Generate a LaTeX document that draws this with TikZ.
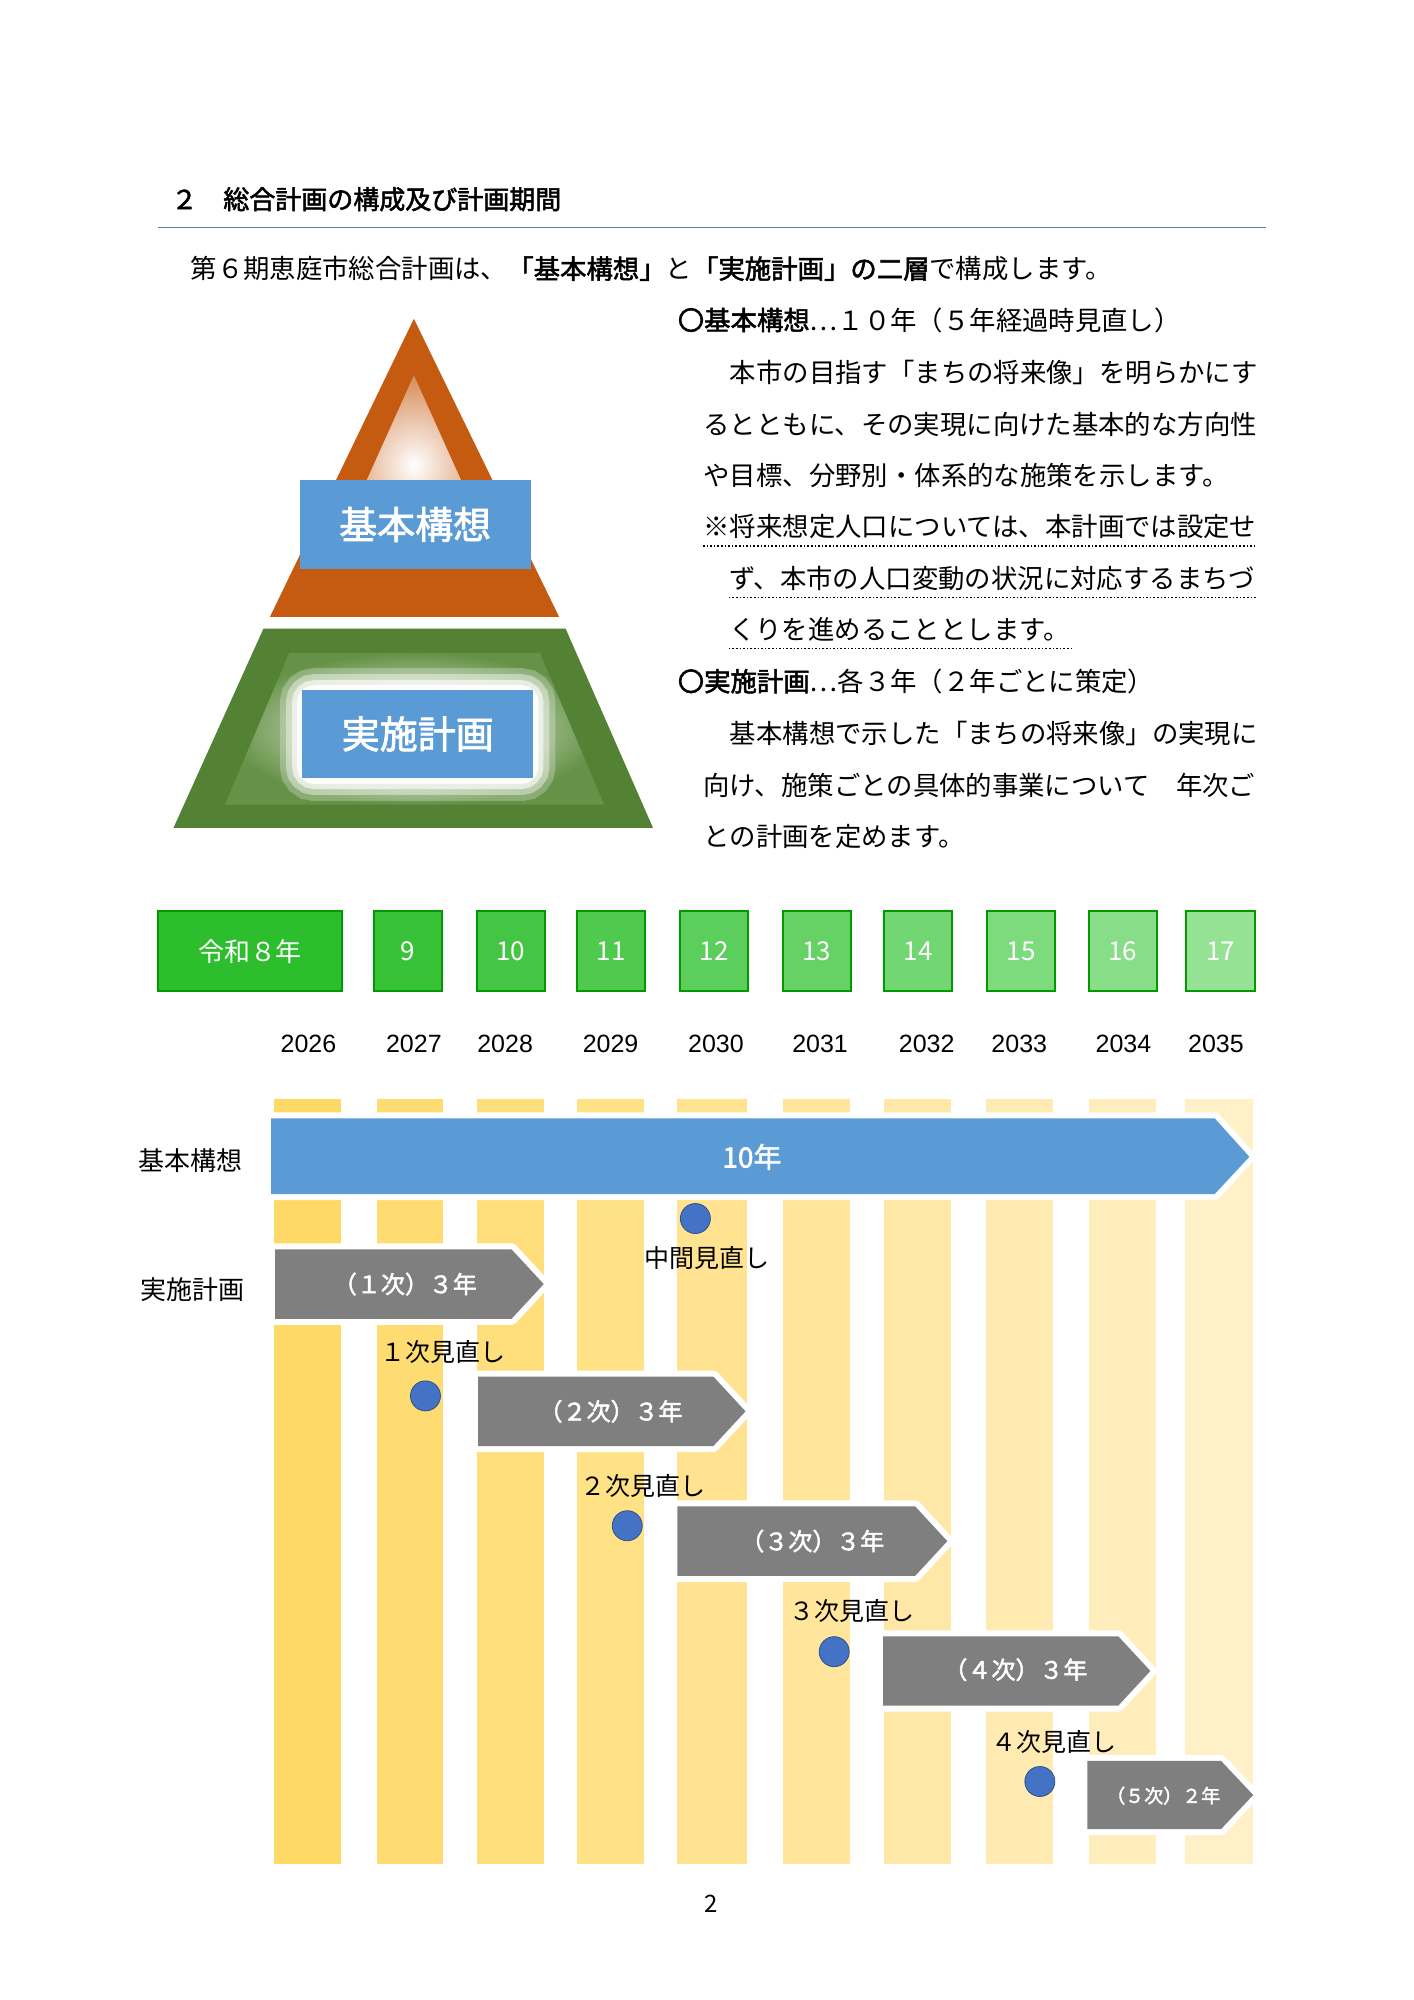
\documentclass[tikz,border=0pt]{standalone}
\usepackage{fontspec}
\setmainfont{Noto Sans CJK JP}[AutoFakeBold=2]
\newfontfamily\yearfont{Liberation Sans}
\usetikzlibrary{positioning,shadows}
\definecolor{headline}{HTML}{5B7FA6}
\definecolor{blueband}{HTML}{5B9BD5}
\definecolor{grayband}{HTML}{7F7F7F}
\definecolor{darkgreen}{HTML}{548235}
\definecolor{litegreen}{HTML}{A9D18E}
\definecolor{orangetri}{HTML}{C55A11}
\definecolor{gA}{HTML}{2DBE2D}
\definecolor{gB}{HTML}{95E295}
\definecolor{yA}{HTML}{FFD966}
\definecolor{yB}{HTML}{FFF0C8}
\definecolor{dotblue}{HTML}{4472C4}
\newcommand{\fsz}[1]{\fontsize{#1pt}{#1pt}\selectfont}
\tikzset{
  txt/.style={anchor=west,inner sep=0pt,font=\fsz{13.2}},
  yearbox/.style={draw=green!60!black,line width=1pt,text=white,font=\fsz{13}},
  yearlbl/.style={font=\yearfont\fsz{12.5}},
  reviewdot/.style={circle,fill=dotblue,draw=dotblue!70!black,minimum size=15pt,inner sep=0pt},
  reviewlbl/.style={font=\fsz{12.5}},
  planlbl/.style={text=white,font=\bfseries\fsz{12}},
  glow/.style={draw=white,line width=6pt,line join=round}
}
\begin{document}
\begin{tikzpicture}[x=0.6429pt,y=-0.6429pt]
  \useasboundingbox[fill=white] (0,0) rectangle (1100,1556);

  % heading
  \node[txt,font=\bfseries\fsz{13}] (title) at (133,155) {２　総合計画の構成及び計画期間};
  \draw[headline,line width=0.8pt] (123,177) -- (985,177);
  \node[txt] (intro) at (148,209) {第６期恵庭市総合計画は、\textbf{「基本構想」}と\textbf{「実施計画」の二層}で構成します。};

  % description
  \node[txt] (l1) at (527,249) {\textbf{〇基本構想}…１０年（５年経過時見直し）};
  \node[txt] (l2) at (547,290) {　本市の目指す「まちの将来像」を明らかにす};
  \node[txt] (l3) at (547,330) {るとともに、その実現に向けた基本的な方向性};
  \node[txt] (l4) at (547,370) {や目標、分野別・体系的な施策を示します。};
  \node[txt] (l5) at (547,410) {※将来想定人口については、本計画では設定せ};
  \node[txt] (l6) at (567,450) {ず、本市の人口変動の状況に対応するまちづ};
  \node[txt] (l7) at (567,490) {くりを進めることとします。};
  \node[txt] (l8) at (527,530) {\textbf{〇実施計画}…各３年（２年ごとに策定）};
  \node[txt] (l9) at (547,571) {　基本構想で示した「まちの将来像」の実現に};
  \node[txt] (l10) at (547,611) {向け、施策ごとの具体的事業について　年次ご};
  \node[txt] (l11) at (547,651) {との計画を定めます。};
  \draw[densely dotted,thick] (l5.south west) ++(0,5) -- ++(430,0);
  \draw[densely dotted,thick] (l6.south west) ++(0,5) -- ++(410,0);
  \draw[densely dotted,thick] (l7.south west) ++(0,5) -- ++(266,0);

  % pyramid
  \fill[orangetri] (322,248) -- (435,480) -- (210,480) -- cycle;
  \shade[inner color=white,outer color=orangetri!70] (322,292) -- (385,432) -- (259,432) -- cycle;
  \fill[darkgreen] (205,489) -- (440,489) -- (508,644) -- (135,644) -- cycle;
  \shade[inner color=white,outer color=darkgreen!80!litegreen] (225,508) -- (420,508) -- (470,626) -- (175,626) -- cycle;
  \node[fill=blueband,minimum width=115.7pt,minimum height=44.4pt,text=white,font=\bfseries\fsz{19}] (kihon) at (323,408) {基本構想};
  \foreach \w/\o in {22/0.25, 16/0.4, 10/0.6, 5/0.9}
    \draw[white,opacity=\o,line width=\w pt,rounded corners=6pt] (235,537) rectangle (415,606);
  \node[fill=blueband,minimum width=115.7pt,minimum height=44.4pt,text=white,font=\bfseries\fsz{19}] (jisshi) at (325,571) {実施計画};

  % year boxes
  \foreach \xa/\xb/\lbl/\p in {123/266/令和８年/0, 291/344/9/11, 371/424/10/22, 449/502/11/33,
      529/582/12/44, 609/662/13/55, 688/741/14/66, 768/821/15/77, 847/900/16/88, 923/976/17/100} {
    \fill[gB!\p!gA] (\xa,709) rectangle (\xb,771);
    \draw[green!60!black,line width=1pt] (\xa,709) rectangle (\xb,771);
    \node[text=white,font=\fsz{13}] (yb\xa) at ({(\xa+\xb)/2},740) {\lbl};
  }
  \foreach \xc/\yr in {240/2026, 322/2027, 393/2028, 475/2029, 557/2030, 638/2031, 721/2032, 793/2033, 874/2034, 946/2035}
    \node[yearlbl] (y\yr) at (\xc,812) {\yr};

  % stripes
  \foreach \xa/\xb/\p in {213/265/0, 293/345/11, 371/423/22, 449/501/33, 527/581/44,
      609/661/55, 688/740/66, 767/819/77, 847/899/88, 922/975/100}
    \fill[yB!\p!yA] (\xa,855) rectangle (\xb,1450);

  % basic concept arrow
  \draw[glow] (211,870) -- (945,870) -- (972,900) -- (945,929) -- (211,929) -- cycle;
  \fill[blueband] (211,870) -- (945,870) -- (972,900) -- (945,929) -- (211,929) -- cycle;
  \node[text=white,font=\bfseries\fsz{14}] (ten) at (585,900) {10年};
  \node[font=\fsz{13}] (lblA) at (148,903) {基本構想};
  \node[font=\fsz{13}] (lblB) at (150,1003) {実施計画};

  % plan arrows
  \foreach \xa/\xb/\ya/\yb/\n in {214/398/972/1026/1, 372/555/1071/1125/2, 527/712/1172/1226/3, 687/870/1273/1327/4, 846/950/1370/1423/5} {
    \draw[glow] (\xa,\ya) -- (\xb,\ya) -- (\xb+25,{(\ya+\yb)/2}) -- (\xb,\yb) -- (\xa,\yb) -- cycle;
    \fill[grayband] (\xa,\ya) -- (\xb,\ya) -- (\xb+25,{(\ya+\yb)/2}) -- (\xb,\yb) -- (\xa,\yb) -- cycle;
  }
  \node[planlbl] (p1) at (315,999) {（１次）３年};
  \node[planlbl] (p2) at (475,1098) {（２次）３年};
  \node[planlbl] (p3) at (632,1199) {（３次）３年};
  \node[planlbl] (p4) at (790,1299) {（４次）３年};
  \node[planlbl,font=\bfseries\fsz{9.5}] (p5) at (905,1397) {（５次）２年};

  % reviews
  \node[reviewdot] (r0) at (541,948) {};
  \node[reviewlbl] (r0l) at (550,979) {中間見直し};
  \node[reviewdot] (r1) at (331,1086) {};
  \node[reviewlbl] (r1l) at (345,1052) {１次見直し};
  \node[reviewdot] (r2) at (488,1187) {};
  \node[reviewlbl] (r2l) at (500,1156) {２次見直し};
  \node[reviewdot] (r3) at (649,1285) {};
  \node[reviewlbl] (r3l) at (663,1253) {３次見直し};
  \node[reviewdot] (r4) at (809,1386) {};
  \node[reviewlbl] (r4l) at (820,1355) {４次見直し};

  \node[font=\fsz{12}] (pageno) at (553,1481) {2};
\end{tikzpicture}
\end{document}
